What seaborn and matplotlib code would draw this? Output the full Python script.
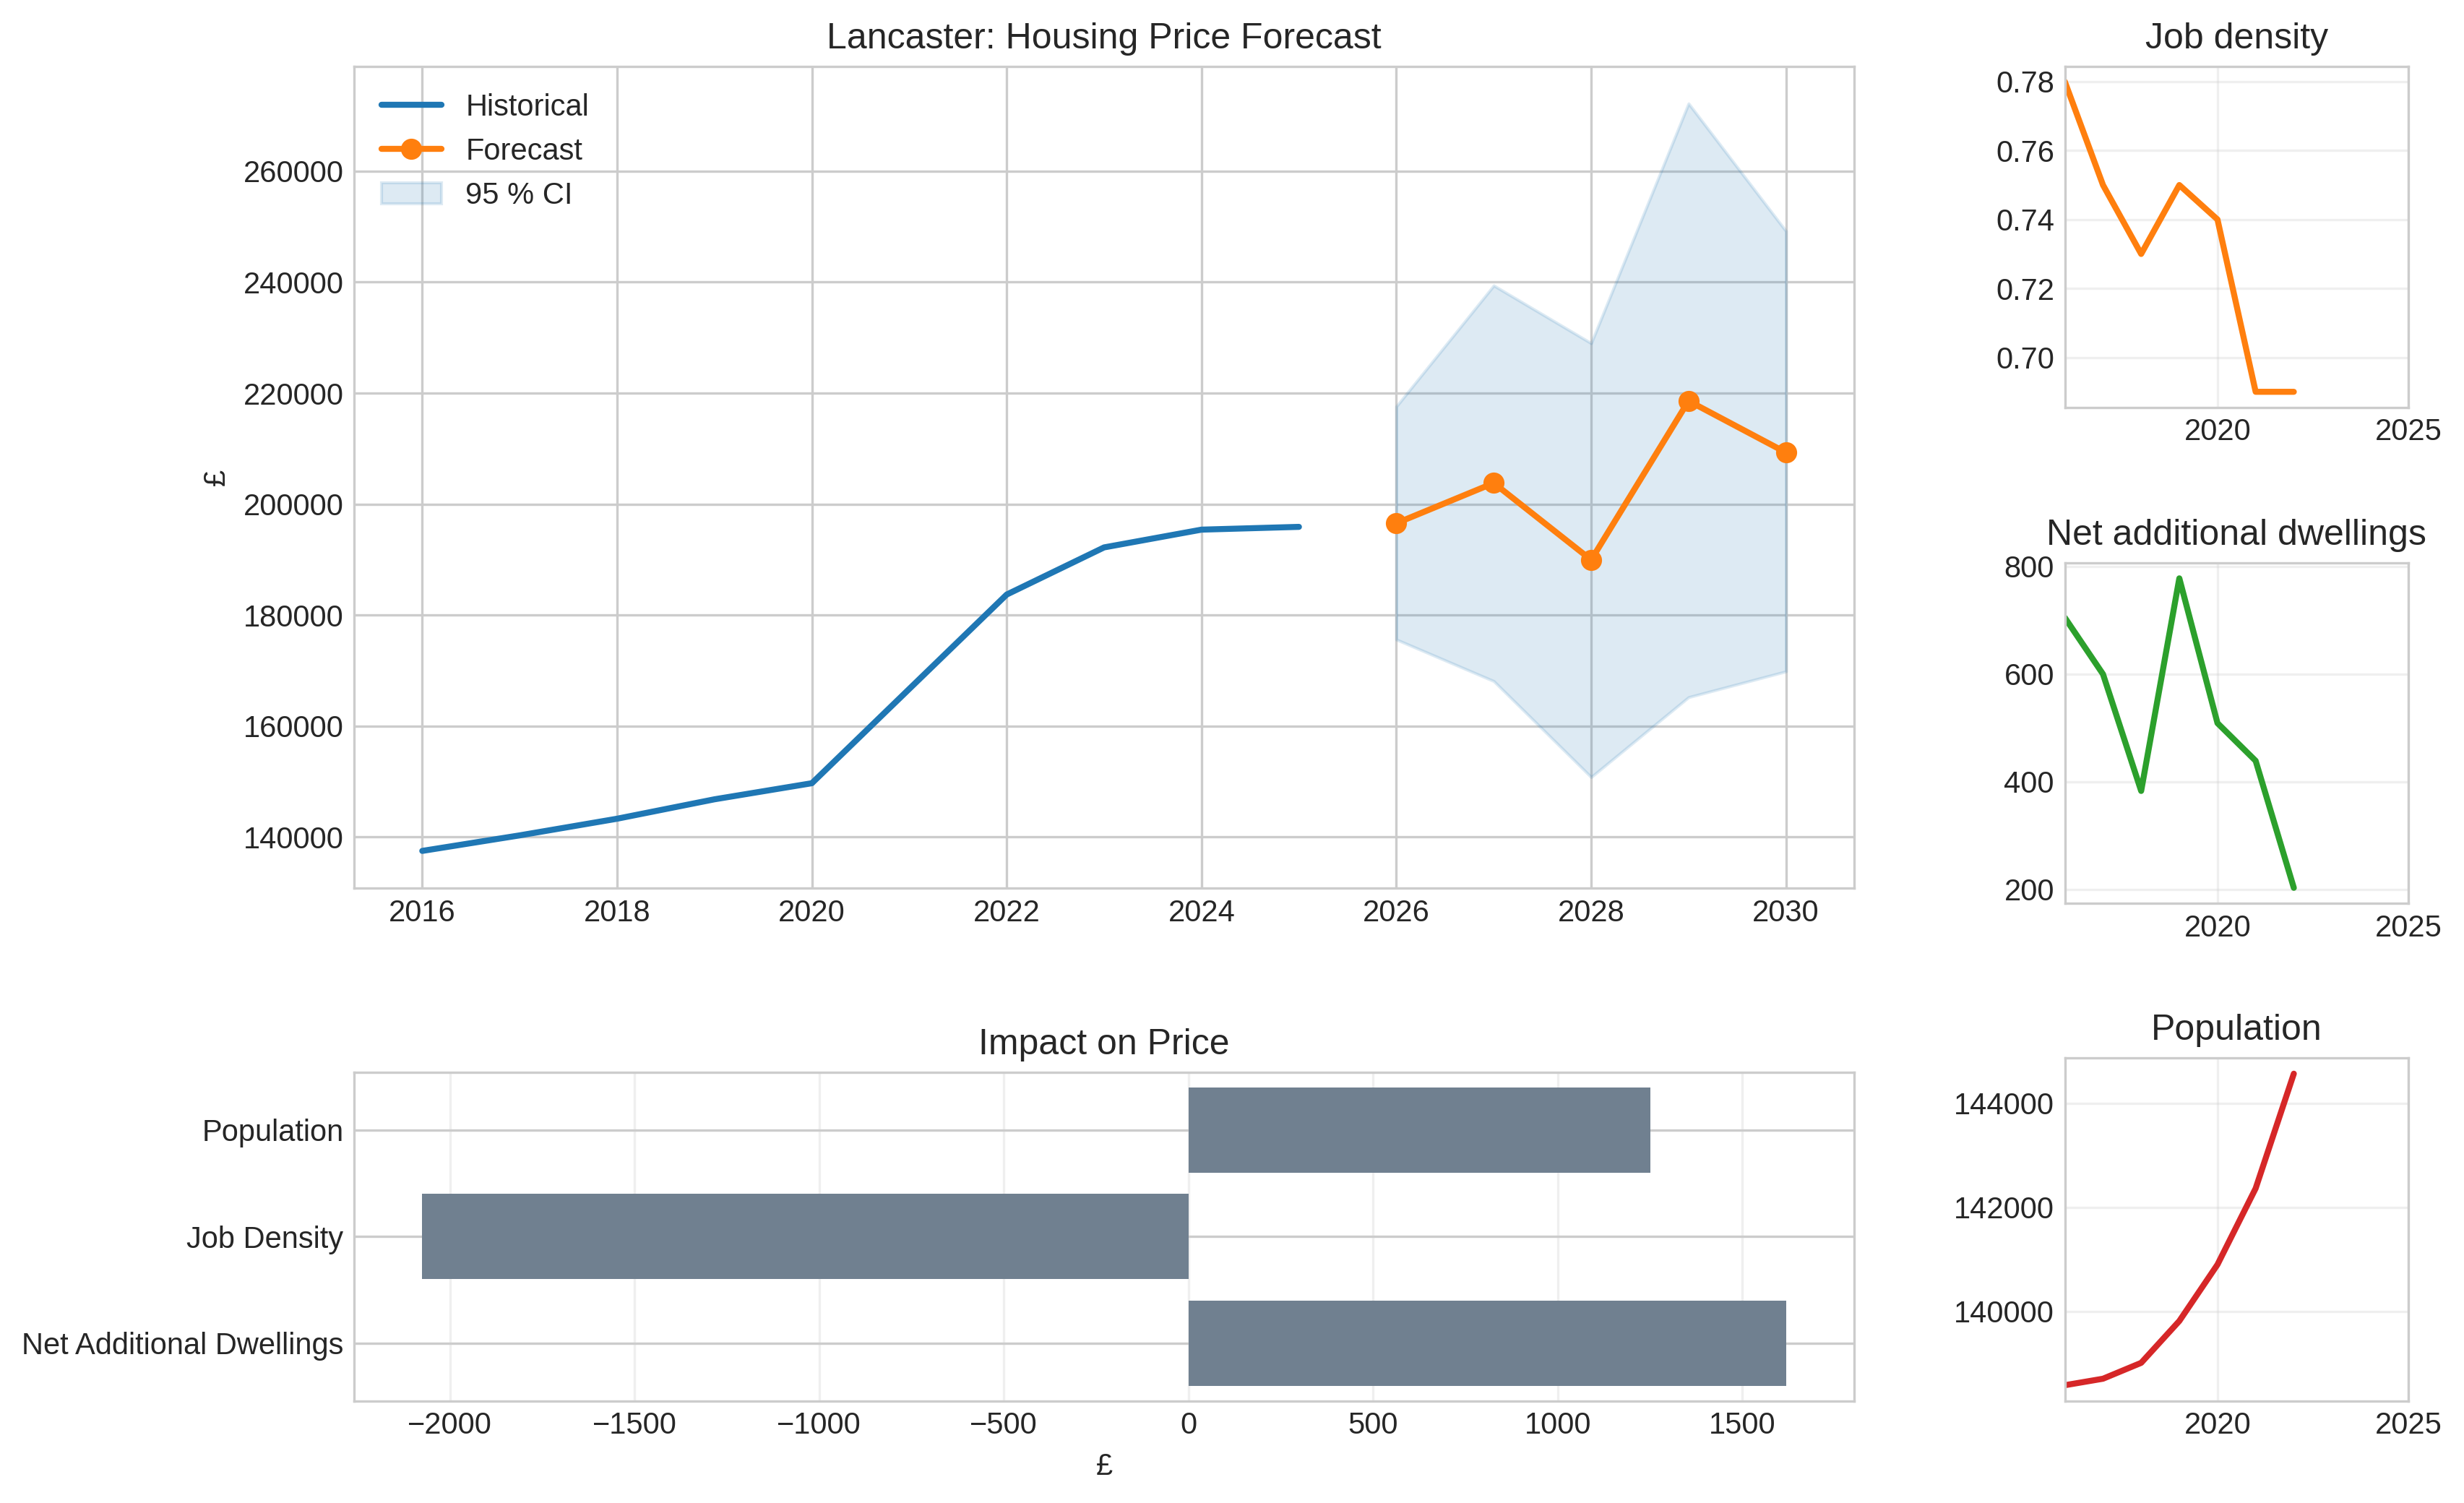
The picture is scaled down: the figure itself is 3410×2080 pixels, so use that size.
import numpy as np
import pandas as pd
import seaborn as sns
import matplotlib.pyplot as plt

# historical + forecast house prices
hist_years = [2016, 2017, 2018, 2019, 2020, 2021, 2022, 2023, 2024, 2025]
hist_price = [137500, 140300, 143300, 146800, 149700, 166700, 183700, 192200, 195400, 195900]

fc_years = [2026, 2027, 2028, 2029, 2030]
fc_price = [196550, 203800, 189950, 218600, 209300]
ci_low = [175600, 168100, 150800, 165200, 169850]
ci_high = [217600, 239400, 229000, 272200, 249200]

# driver series
drv_years = [2016, 2017, 2018, 2019, 2020, 2021, 2022]
job_density = [0.78, 0.75, 0.73, 0.75, 0.74, 0.69, 0.69]
net_dwellings = [705, 600, 383, 778, 509, 439, 203]
population = [138580, 138705, 139010, 139815, 140900, 142365, 144570]

# impact on price
factors = ['Population', 'Job Density', 'Net Additional Dwellings']
impact = [1250, -2075, 1618]

sns.set_style('whitegrid')
plt.rcParams['font.family'] = ['Liberation Sans', 'DejaVu Sans']
plt.rcParams['xtick.major.size'] = 0
plt.rcParams['ytick.major.size'] = 0
plt.rcParams['legend.frameon'] = False

fig = plt.figure(figsize=(3410 / 300, 2080 / 300), dpi=300)

ax_main = fig.add_axes([0.1437, 0.409, 0.6088, 0.547])
ax_bar = fig.add_axes([0.1437, 0.068, 0.6088, 0.2185])
ax_job = fig.add_axes([0.838, 0.729, 0.1394, 0.227])
ax_net = fig.add_axes([0.838, 0.399, 0.1394, 0.2265])
ax_pop = fig.add_axes([0.838, 0.068, 0.1394, 0.228])

# main forecast panel
sns.lineplot(x=hist_years, y=hist_price, ax=ax_main, color='C0', lw=2, label='Historical')
sns.lineplot(x=fc_years, y=fc_price, ax=ax_main, color='C1', lw=2, marker='o',
             markersize=6.5, markeredgecolor='C1', markeredgewidth=0.5, label='Forecast')
ax_main.fill_between(fc_years, ci_low, ci_high, color='C0', alpha=0.15, label='95 % CI')
ax_main.set_title('Lancaster: Housing Price Forecast')
ax_main.set_ylabel('£')
ax_main.set_xlabel('')
ax_main.legend(loc='upper left', frameon=False)

# impact bars
df_imp = pd.DataFrame({'factor': factors, 'impact': impact})
sns.barplot(data=df_imp, y='factor', x='impact', ax=ax_bar, color='slategray',
            saturation=1, width=0.8, linewidth=0)
ax_bar.set_ylim(2.54, -0.54)
ax_bar.yaxis.grid(True)
ax_bar.xaxis.grid(True, alpha=0.3)
ax_bar.set_title('Impact on Price')
ax_bar.set_xlabel('£')
ax_bar.set_ylabel('')

# small driver panels
for ax, vals, col, title in [(ax_job, job_density, 'C1', 'Job density'),
                             (ax_net, net_dwellings, 'C2', 'Net additional dwellings'),
                             (ax_pop, population, 'C3', 'Population')]:
    sns.lineplot(x=drv_years, y=vals, ax=ax, color=col, lw=2)
    ax.set_title(title)
    ax.set_xlim(2016, 2025)
    ax.set_xticks([2020, 2025])
    ax.grid(True, alpha=0.3)
    ax.set_xlabel('')
    ax.set_ylabel('')

fig.savefig('out.png', dpi=300)
